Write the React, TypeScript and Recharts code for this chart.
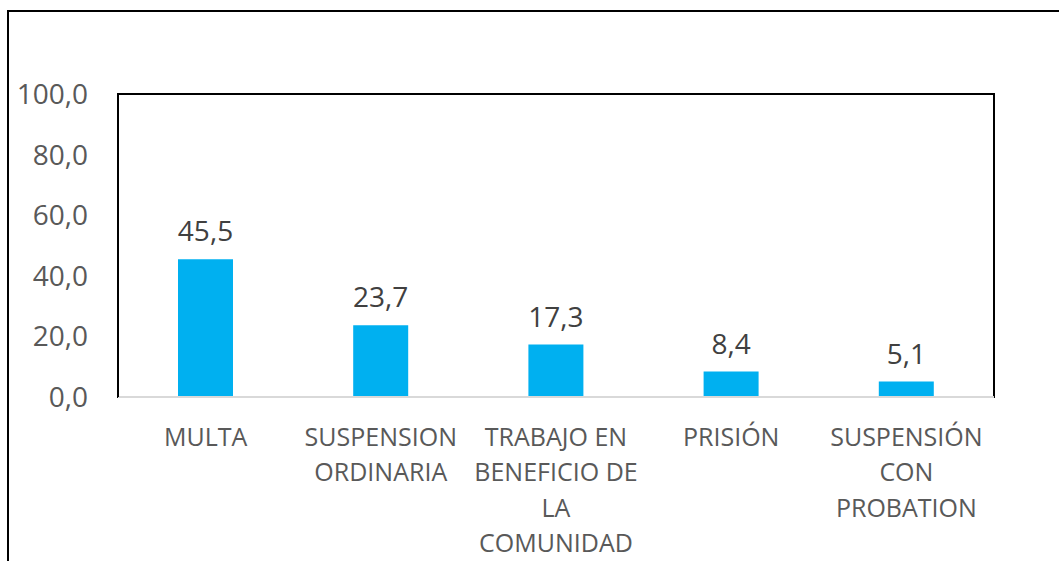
import { BarChart, Bar, XAxis, YAxis, LabelList, ReferenceArea } from "recharts";

const categories = [
  "MULTA",
  "SUSPENSION\nORDINARIA",
  "TRABAJO EN\nBENEFICIO DE\nLA\nCOMUNIDAD",
  "PRISIÓN",
  "SUSPENSIÓN\nCON\nPROBATION",
];
const values = [45.5, 23.7, 17.3, 8.4, 5.1];
const yTicks = [0, 20, 40, 60, 80, 100];

const data = categories.map((c, i) => ({ name: c, value: values[i] }));

const fmt = (v: any) => Number(v).toFixed(1).replace(".", ",");
const FONT = "'Open Sans', Calibri, sans-serif";

function CatTick({ x, y, payload }: any) {
  const lines = String(payload.value).split("\n");
  return (
    <text x={x} y={y + 41} textAnchor="middle" fill="#595959" fontSize={25} fontFamily={FONT}>
      {lines.map((l, i) => (
        <tspan key={i} x={x} dy={i === 0 ? 0 : 35.3}>{l}</tspan>
      ))}
    </text>
  );
}

export default function App() {
  return (
    <div style={{ position: "absolute", left: 0, top: 0, width: 1059, height: 561, overflow: "hidden", background: "#fff" }}>
      <div style={{ position: "absolute", left: 7, top: 10, width: 1100, height: 600, border: "2px solid #000", boxSizing: "border-box" }} />
      <div style={{ position: "absolute", left: 0, top: 0 }}>
        <BarChart width={1059} height={561} data={data} margin={{ top: 94, right: 65, bottom: 0, left: 0 }}>
          <ReferenceArea y1={0} y2={100} fill="none" stroke="#000" strokeWidth={2} ifOverflow="visible" />
          <XAxis dataKey="name" height={164} tickLine={false} interval={0}
            axisLine={{ stroke: "#d9d9d9", strokeWidth: 2 }} tick={<CatTick />} />
          <YAxis width={118} domain={[0, 100]} ticks={yTicks} tickFormatter={fmt} tickLine={false}
            tickMargin={30} tickSize={0} axisLine={{ stroke: "#000", strokeWidth: 2 }}
            tick={{ fill: "#595959", fontSize: 28, fontFamily: FONT }} />
          <Bar dataKey="value" fill="#00B0F0" barSize={55} isAnimationActive={false}>
            <LabelList dataKey="value" position="top" offset={18} formatter={fmt}
              style={{ fill: "#404040", fontSize: 28, fontFamily: FONT }} />
          </Bar>
        </BarChart>
      </div>
    </div>
  );
}
